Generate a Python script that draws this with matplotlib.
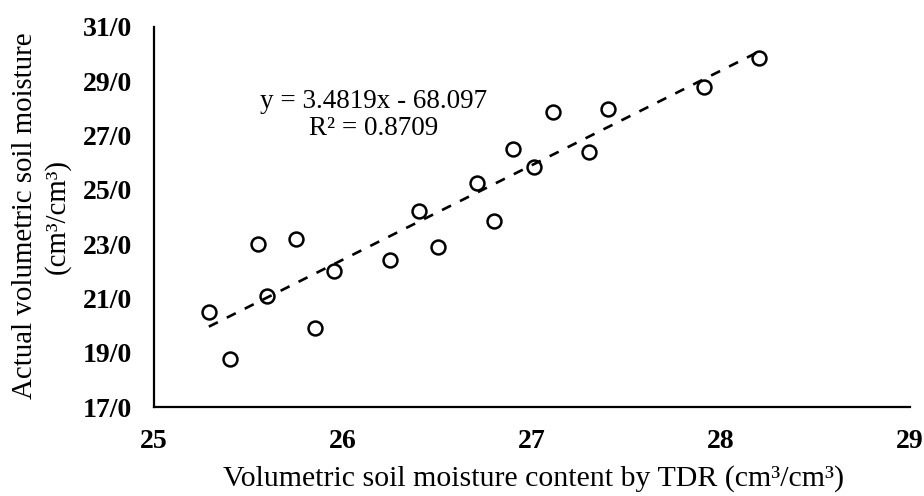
import matplotlib
matplotlib.use("Agg")
import matplotlib.pyplot as plt
import numpy as np

plt.rcParams['font.family'] = ['Liberation Serif', 'DejaVu Serif']

# TDR reading vs. actual soil moisture
tdr = np.array([25.29, 25.40, 25.55, 25.60, 25.75, 25.85, 25.95, 26.25, 26.40, 26.50,
                26.71, 26.80, 26.90, 27.01, 27.11, 27.30, 27.40, 27.91, 28.20])
actual = np.array([20.49, 18.76, 22.99, 21.08, 23.18, 19.90, 22.00, 22.40, 24.21, 22.88,
                   25.27, 23.84, 26.52, 25.86, 27.88, 26.38, 27.99, 28.80, 29.87])

# trend line from the chart
slope = 3.4819
intercept = -68.097
r2 = 0.8709

x_ticks = [25, 26, 27, 28, 29]
y_ticks = [17, 19, 21, 23, 25, 27, 29, 31]

fig = plt.figure(figsize=(9.24, 4.96), dpi=100)
ax = fig.add_axes([0.1667, 0.1794, 0.8183, 0.7662])

xf = np.array([tdr.min(), tdr.max()])
ax.plot(xf, slope * xf + intercept, color='black', lw=1.9, linestyle=(0, (3.8, 3.8)))
ax.plot(tdr, actual, linestyle='none', marker='o', markersize=10,
        markerfacecolor='none', markeredgecolor='black', markeredgewidth=1.8)

ax.set_xlim(25, 29)
ax.set_ylim(17, 31)
ax.set_xticks(x_ticks)
ax.set_yticks(y_ticks)
ax.set_xticklabels([str(v) for v in x_ticks], fontweight='bold', fontsize=20)
ax.set_yticklabels(['%d/0' % v for v in y_ticks], fontweight='bold', fontsize=20)
ax.tick_params(axis='both', length=0)
ax.tick_params(axis='x', pad=16)
ax.tick_params(axis='y', pad=16)

for s in ['top', 'right']:
    ax.spines[s].set_visible(False)
for s in ['left', 'bottom']:
    ax.spines[s].set_linewidth(1.6)
    ax.spines[s].set_color('black')

# axis titles
fig.text(0.577, 0.036, 'Volumetric soil moisture content by TDR (cm³/cm³)',
         ha='center', va='center', fontsize=21.5)
fig.text(0.027, 0.5645, 'Actual volumetric soil moisture',
         ha='center', va='center', rotation=90, fontsize=20.8)
fig.text(0.0617, 0.5645, '(cm³/cm³)',
         ha='center', va='center', rotation=90, fontsize=20.8)

sign = '-' if intercept < 0 else '+'
ax.text(0.29, 0.768, 'y = %.4fx %s %.3f\nR² = %.4f' % (slope, sign, abs(intercept), r2),
        transform=ax.transAxes, ha='center', va='center', fontsize=19.5,
        multialignment='center', linespacing=1.1)

fig.savefig('out.png', dpi=100)
